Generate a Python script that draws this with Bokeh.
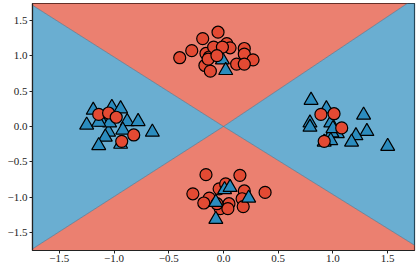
from bokeh.plotting import figure
from bokeh.models import Range1d, CustomJSTickFormatter, FixedTicker
from bokeh.embed import file_html
from bokeh.resources import INLINE

# Class 0 (red circles)
circle_x = [-0.40, -0.29, -0.19, -0.05, -0.16, -0.13, -0.09, 0.03, 0.06, 0.19, 0.19, 0.27, 0.12, 0.19, -0.17, -0.12, -0.14, -0.01, -0.06,
            -0.16, 0.15, -0.28, 0.38, -0.13, -0.18, -0.04, 0.02, 0.19, 0.17, 0.18, 0.05, -0.03, 0.04, -0.06,
            -1.14, -1.05, -0.98, -0.82, -0.93,
            0.89, 1.01, 1.08, 0.92]
circle_y = [0.97, 1.07, 1.24, 1.33, 1.03, 0.98, 1.12, 1.17, 1.11, 1.10, 1.02, 0.94, 0.88, 0.88, 0.86, 0.78, 0.95, 1.12, 1.00,
            -0.68, -0.69, -0.95, -0.93, -1.01, -1.08, -0.88, -0.81, -0.91, -1.02, -1.13, -1.09, -1.16, -1.16, -1.09,
            0.17, 0.19, 0.13, -0.12, -0.21,
            0.17, 0.18, -0.02, -0.21]

# Class 1 (blue triangles): drawn beneath the circles
tri_x = [-0.01, 0.02,
         -1.19, -1.25, -1.02, -0.94, -1.11, -0.88, -0.78, -0.92, -0.65, -1.05, -1.08, -1.14, -0.94, -1.04, -1.14,
         0.80, 0.79, 0.79, 0.94, 0.98, 1.28, 1.31, 1.21, 1.17, 1.04, 0.99, 0.98, 1.50, 0.92, 1.00]
tri_y = [0.94, 0.79,
         0.23, 0.02, 0.27, 0.25, 0.06, 0.07, 0.07, -0.05, -0.08, -0.08, -0.15, -0.27, -0.25, 0.05, 0.06,
         0.37, 0.05, -0.01, 0.25, 0.05, 0.16, -0.07, -0.13, -0.22, -0.10, -0.09, -0.20, -0.28, -0.22, -0.03]

# Class 1 (blue triangles) in the bottom cluster: drawn above the circles
tri_top_x = [0.01, 0.06, -0.07, 0.23, -0.07]
tri_top_y = [-0.89, -0.86, -1.07, -1.01, -1.31]

# Decision boundary rays from the origin: slope |y|/|x| per quadrant
slope_tl, slope_tr, slope_br, slope_bl = 0.98, 1.034, 0.96, 0.99

x_lo, x_hi = -1.745, 1.745
y_lo, y_hi = -1.75, 1.735
ticks = [-1.5, -1.0, -0.5, 0.0, 0.5, 1.0, 1.5]

RED_BG = "#e34a33"
BLUE_BG = "#2b8cbe"
RED = "#e34a33"
BLUE = "#2b8cbe"
FONT = "Liberation Serif"

p = figure(frame_width=382, frame_height=247, output_backend="svg", toolbar_location=None,
           x_range=Range1d(x_lo, x_hi), y_range=Range1d(y_lo, y_hi),
           min_border_left=32, min_border_right=2, min_border_top=3, min_border_bottom=14)

R = 3.0
red_xs = [[-R, 0, R, R, -R], [-R, 0, R, R, -R]]
red_ys = [[R * slope_tl, 0, R * slope_tr, 3 * R, 3 * R], [-R * slope_bl, 0, -R * slope_br, -3 * R, -3 * R]]
blue_xs = [[-R, 0, -R, -3 * R], [R, 0, R, 3 * R]]
blue_ys = [[R * slope_tl, 0, -R * slope_bl, 0], [R * slope_tr, 0, -R * slope_br, 0]]

p.patches(blue_xs, blue_ys, fill_color=BLUE_BG, fill_alpha=0.7, line_color=None)
p.patches(red_xs, red_ys, fill_color=RED_BG, fill_alpha=0.7, line_color="#4a6f8a", line_width=0.8, line_alpha=0.8)

p.scatter(tri_x, tri_y, marker="triangle", size=14, fill_color=BLUE, line_color="black", line_width=1.2)
p.scatter(circle_x, circle_y, marker="circle", size=12, fill_color=RED, line_color="black", line_width=1.2)
p.scatter(tri_top_x, tri_top_y, marker="triangle", size=14, fill_color=BLUE, line_color="black", line_width=1.2)

p.xgrid.visible = False
p.ygrid.visible = False
p.outline_line_color = "#222222"
p.outline_line_width = 1.2
fmt = CustomJSTickFormatter(code="return tick.toFixed(1).replace('-', '\u2212');")
for ax in (p.xaxis[0], p.yaxis[0]):
    ax.ticker = FixedTicker(ticks=ticks)
    ax.formatter = fmt
    ax.major_label_text_font = FONT
    ax.major_label_text_font_size = "11px"
    ax.major_label_text_color = "#222222"
    ax.minor_tick_line_color = None
    ax.major_tick_in = 0
    ax.major_tick_out = 3
    ax.major_tick_line_color = "#222222"
    ax.axis_line_color = "#222222"
    ax.axis_line_width = 1.2
    ax.major_label_standoff = 2
p.xaxis[0].major_label_standoff = 1

open("out.html", "w").write(file_html(p, INLINE))
